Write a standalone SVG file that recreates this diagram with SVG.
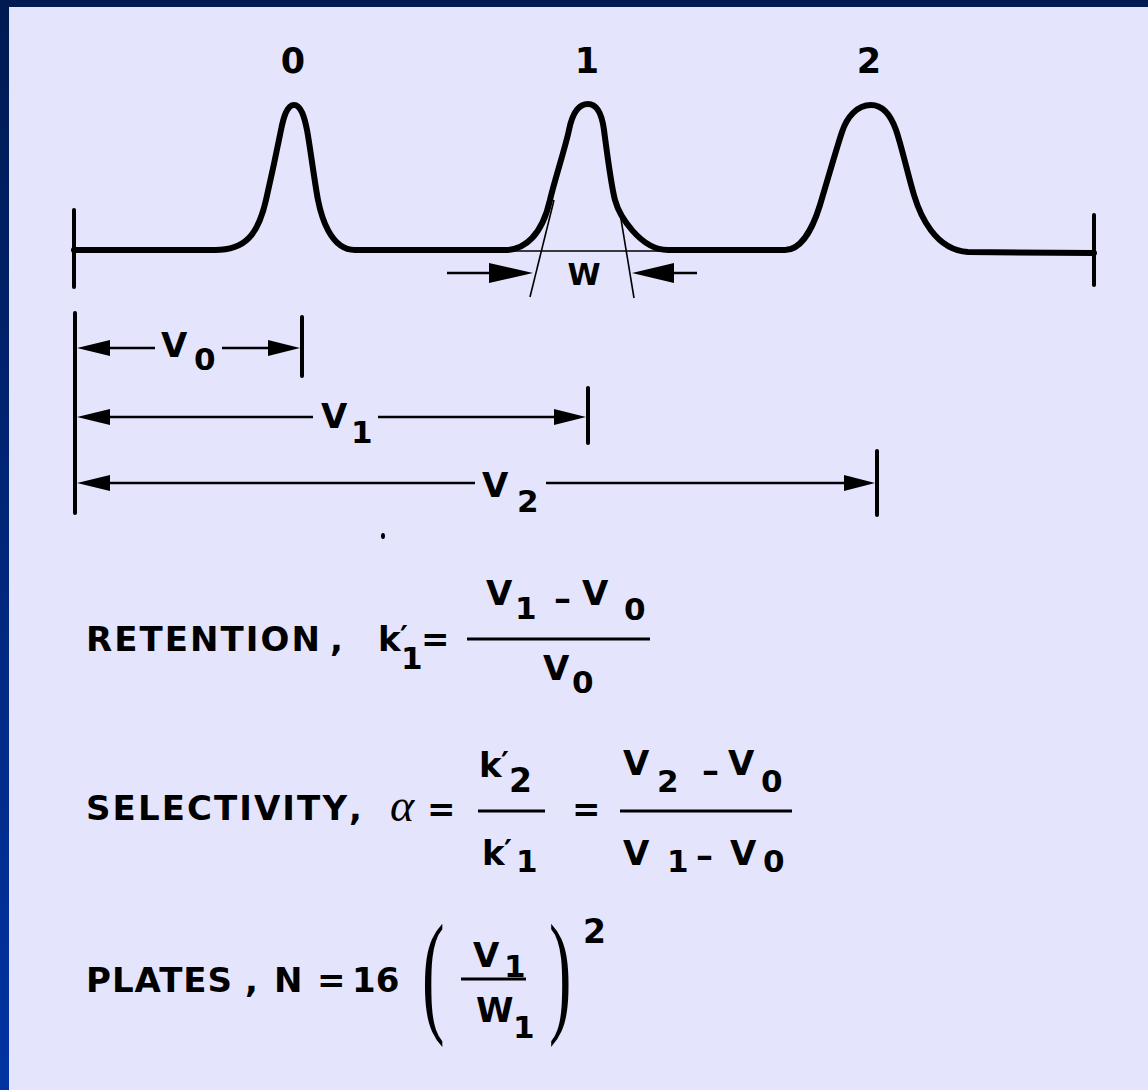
<svg xmlns="http://www.w3.org/2000/svg" width="1148" height="1090" viewBox="0 0 1148 1090">
<defs>
<linearGradient id="edge" x1="0" y1="0" x2="0" y2="1">
<stop offset="0" stop-color="#001A52"/>
<stop offset="1" stop-color="#0033A2"/>
</linearGradient>
<style>
.t{font-family:"DejaVu Sans","Liberation Sans",sans-serif;font-weight:bold;fill:#000}
.m{font-size:34px}
.s{font-size:31px}
.thick{fill:none;stroke:#000;stroke-width:6;stroke-linejoin:round;stroke-linecap:round}
.tick{stroke:#000;stroke-width:4;stroke-linecap:round}
.thin{stroke:#000;stroke-width:1.6}
.dim{stroke:#000;stroke-width:2.5}
.bar{stroke:#000;stroke-width:3}
.head{fill:#000}
.par{font-family:"Liberation Serif",serif;font-size:135px;fill:#000}
</style>
</defs>
<rect x="0" y="0" width="1148" height="1090" fill="url(#edge)"/>
<rect x="9" y="7" width="1139" height="1083" fill="#E4E4FC"/>

<g id="chromatogram">
<path class="thick" d="M74,250 L215,250 C245,250 258,235 266,200 C270,182.5 278,145 281,130 C283.5,117.5 287,105 294,105 C301,105 304.5,117.5 307,130 C309.4,142 315,185 318,200 C321,215 330,250 355,250 L505,250 C525,250 542,235 550,200 C554,182.5 566,145 569,130 C571.5,117.5 576,104 588,104 C598,104 602,115 604,130 C606,145 611,185 615,200 C619,215 640,250 668,250 L785,250 C800,250 812,231 820,205 C827,182 836,150 842,132 C847,117 857,105 871,105 C883,105 891,116 896,130 C901,144 908,175 914,195 C920,215 935,250 968,252 L1094,253"/>
<line class="tick" x1="74" y1="210" x2="74" y2="287"/>
<line class="tick" x1="1094" y1="215" x2="1094" y2="285"/>
</g>

<g id="peak-labels">
<text class="t" x="293" y="73" font-size="35" text-anchor="middle">0</text>
<text class="t" x="587" y="73" font-size="35" text-anchor="middle">1</text>
<text class="t" x="869" y="73" font-size="35" text-anchor="middle">2</text>
</g>

<g id="width-construction">
<line class="thin" x1="507" y1="251" x2="667" y2="251"/>
<line class="thin" x1="554" y1="200" x2="530" y2="297"/>
<line class="thin" x1="619" y1="207" x2="634" y2="298"/>
<text class="t" x="584" y="285" font-size="30" text-anchor="middle">W</text>
</g>

<g id="connectors">
<line class="dim" x1="447" y1="273" x2="495" y2="273"/>
<polygon class="head" points="533,273 489,263 489,283"/>
<line class="dim" x1="670" y1="273" x2="697" y2="273"/>
<polygon class="head" points="632,273 674,263 674,283"/>

<line class="tick" x1="75" y1="313" x2="75" y2="513"/>
<line class="tick" x1="302" y1="317" x2="302" y2="376"/>
<line class="tick" x1="588" y1="388" x2="588" y2="443"/>
<line class="tick" x1="877" y1="451" x2="877" y2="515"/>

<line class="dim" x1="105" y1="348" x2="155" y2="348"/>
<line class="dim" x1="222" y1="348" x2="272" y2="348"/>
<polygon class="head" points="77,348 110,340 110,356"/>
<polygon class="head" points="300,348 268,340 268,356"/>

<line class="dim" x1="105" y1="417" x2="313" y2="417"/>
<line class="dim" x1="378" y1="417" x2="558" y2="417"/>
<polygon class="head" points="77,417 110,409 110,425"/>
<polygon class="head" points="586,417 554,409 554,425"/>

<line class="dim" x1="105" y1="483" x2="475" y2="483"/>
<line class="dim" x1="546" y1="483" x2="848" y2="483"/>
<polygon class="head" points="77,483 110,475 110,491"/>
<polygon class="head" points="875,483 844,475 844,491"/>
</g>

<g id="dimension-labels">
<text class="t m" x="161" y="357">V</text><text class="t s" x="194" y="370">0</text>
<text class="t m" x="321" y="428">V</text><text class="t s" x="351" y="443">1</text>
<text class="t m" x="482" y="497">V</text><text class="t s" x="517" y="512">2</text>
</g>

<ellipse cx="383" cy="536" rx="2" ry="3" fill="#000"/>

<g id="retention">
<text class="t m" x="86" y="651" textLength="234" lengthAdjust="spacing">RETENTION</text>
<text class="t m" x="330" y="651">,</text>
<text class="t m" x="378" y="651">k</text>
<text class="t" x="400" y="647" font-size="30">′</text>
<text class="t s" x="401" y="669">1</text>
<text class="t m" x="421" y="651">=</text>
<line class="bar" x1="467" y1="639" x2="650" y2="639"/>
<text class="t m" x="486" y="605">V</text><text class="t s" x="515" y="619">1</text>
<text class="t m" x="554" y="610">–</text>
<text class="t m" x="582" y="605">V</text><text class="t s" x="624" y="620">0</text>
<text class="t m" x="543" y="680">V</text><text class="t s" x="572" y="693">0</text>
</g>

<g id="selectivity">
<text class="t m" x="86" y="820" textLength="261" lengthAdjust="spacing">SELECTIVITY</text>
<text class="t m" x="349" y="820">,</text>
<text x="390" y="821" font-family="'Liberation Serif',serif" font-style="italic" font-size="46">α</text>
<text class="t m" x="427" y="821">=</text>
<line class="bar" x1="478" y1="811" x2="545" y2="811"/>
<text class="t m" x="479" y="777">k</text>
<text class="t" x="501" y="773" font-size="30">′</text>
<text class="t" x="509" y="792" font-size="33">2</text>
<text class="t m" x="482" y="865">k</text>
<text class="t" x="504" y="861" font-size="30">′</text>
<text class="t s" x="516" y="872">1</text>
<text class="t m" x="572" y="821">=</text>
<line class="bar" x1="620" y1="811" x2="792" y2="811"/>
<text class="t m" x="623" y="775">V</text><text class="t s" x="657" y="792">2</text>
<text class="t m" x="702" y="782">–</text>
<text class="t m" x="728" y="775">V</text><text class="t s" x="761" y="792">0</text>
<text class="t m" x="623" y="865">V</text><text class="t s" x="667" y="872">1</text>
<text class="t m" x="696" y="867">–</text>
<text class="t m" x="730" y="865">V</text><text class="t s" x="763" y="872">0</text>
</g>

<g id="plates">
<text class="t m" x="86" y="992" textLength="146" lengthAdjust="spacing">PLATES</text>
<text class="t m" x="245" y="992">,</text>
<text class="t m" x="274" y="992">N</text>
<text class="t m" x="317" y="992">=</text>
<text class="t m" x="352" y="992">16</text>
<text class="par" transform="translate(422,1018) scale(0.5,1)">(</text>
<line class="bar" x1="461" y1="979" x2="526" y2="979"/>
<text class="t m" x="473" y="967">V</text><text class="t s" x="504" y="977">1</text>
<text class="t m" x="476" y="1022">W</text><text class="t s" x="513" y="1038">1</text>
<text class="par" transform="translate(549,1018) scale(0.5,1)">)</text>
<text class="t" x="583" y="943" font-size="33">2</text>
</g>
</svg>
